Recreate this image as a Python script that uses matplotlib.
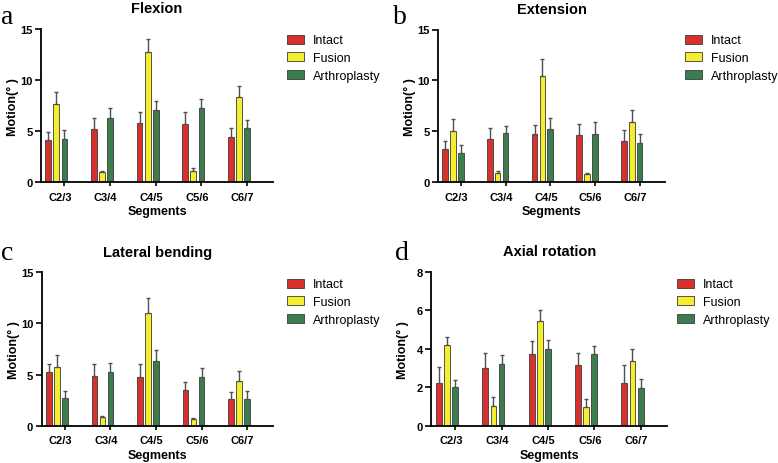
import numpy as np
import matplotlib
matplotlib.use("Agg")
import matplotlib.pyplot as plt

plt.rcParams['font.family'] = ['Liberation Sans', 'DejaVu Sans']

segments = ['C2/3', 'C3/4', 'C4/5', 'C5/6', 'C6/7']
groups = ['Intact', 'Fusion', 'Arthroplasty']
colores = ['#d8302c', '#f4ee2e', '#3b7d4f']

# a - Flexion
flex_intact = [4.14, 5.25, 5.80, 5.74, 4.43]
flex_intact_err = [0.75, 1.08, 1.05, 1.11, 0.92]
flex_fusion = [7.66, 1.01, 12.72, 1.11, 8.31]
flex_fusion_err = [1.21, 0.13, 1.33, 0.29, 1.11]
flex_arth = [4.24, 6.29, 7.04, 7.27, 5.31]
flex_arth_err = [0.88, 0.98, 0.95, 0.85, 0.75]

# b - Extension
ext_intact = [3.27, 4.25, 4.74, 4.67, 4.08]
ext_intact_err = [0.78, 1.04, 0.88, 1.05, 1.05]
ext_fusion = [5.07, 0.88, 10.46, 0.78, 5.92]
ext_fusion_err = [1.11, 0.26, 1.60, 0.17, 1.14]
ext_arth = [2.91, 4.84, 5.23, 4.77, 3.89]
ext_arth_err = [0.78, 0.72, 1.11, 1.11, 0.85]

# c - Lateral bending
lat_intact = [5.22, 4.86, 4.76, 3.46, 2.64]
lat_intact_err = [0.84, 1.17, 1.30, 0.78, 0.62]
lat_fusion = [5.77, 0.88, 11.05, 0.68, 4.37]
lat_fusion_err = [1.14, 0.10, 1.41, 0.07, 0.94]
lat_arth = [2.71, 5.22, 6.36, 4.76, 2.61]
lat_arth_err = [0.71, 0.91, 1.01, 0.91, 0.75]

# d - Axial rotation
axi_intact = [2.22, 2.98, 3.74, 3.15, 2.22]
axi_intact_err = [0.81, 0.78, 0.68, 0.61, 0.93]
axi_fusion = [4.21, 1.04, 5.45, 0.97, 3.34]
axi_fusion_err = [0.38, 0.43, 0.58, 0.40, 0.63]
axi_arth = [2.01, 3.20, 3.98, 3.72, 1.96]
axi_arth_err = [0.38, 0.47, 0.45, 0.44, 0.45]

W, H = 778, 464

def caja(l, t, r, b):
    return [l / W, 1 - b / H, (r - l) / W, (b - t) / H]

paneles = [
    dict(letra='a', titulo='Flexion', box=caja(41, 30, 273, 183.3), ymax=15, yt=[0, 5, 10, 15],
         datos=[(flex_intact, flex_intact_err), (flex_fusion, flex_fusion_err), (flex_arth, flex_arth_err)],
         letra_xy=(1, 24), leg_xy=(287, 35.5)),
    dict(letra='b', titulo='Extension', box=caja(438, 30.5, 665, 183.3), ymax=15, yt=[0, 5, 10, 15],
         datos=[(ext_intact, ext_intact_err), (ext_fusion, ext_fusion_err), (ext_arth, ext_arth_err)],
         letra_xy=(393, 24), leg_xy=(685, 35.5)),
    dict(letra='c', titulo='Lateral bending', box=caja(41.5, 273.3, 273, 426.7), ymax=15, yt=[0, 5, 10, 15],
         datos=[(lat_intact, lat_intact_err), (lat_fusion, lat_fusion_err), (lat_arth, lat_arth_err)],
         letra_xy=(1, 260), leg_xy=(287, 279.5)),
    dict(letra='d', titulo='Axial rotation', box=caja(431.5, 272.7, 667, 426.7), ymax=8, yt=[0, 2, 4, 6, 8],
         datos=[(axi_intact, axi_intact_err), (axi_fusion, axi_fusion_err), (axi_arth, axi_arth_err)],
         letra_xy=(395, 260), leg_xy=(677, 279.5)),
]

fig = plt.figure(figsize=(W / 100, H / 100), dpi=100)

x = np.arange(len(segments))
ancho = 0.125
paso = 0.176

for p in paneles:
    ax = fig.add_axes(p['box'])
    for k, (vals, errs) in enumerate(p['datos']):
        ax.bar(x + (k - 1) * paso, vals, ancho, color=colores[k], edgecolor='#3a3a3a',
               linewidth=0.6, label=groups[k],
               yerr=[np.zeros(len(errs)), errs], capsize=1.2,
               error_kw=dict(ecolor='#505050', elinewidth=1.0, capthick=1.0))
    ax.set_xlim(-0.336, 4.745)
    ax.set_ylim(0, p['ymax'])
    ax.set_yticks(p['yt'])
    ax.set_xticks(x + paso)
    ax.set_xticklabels([])
    ax.set_xticks(x + 0.08, segments, minor=True)
    ax.tick_params(axis='x', which='minor', length=0, pad=7)
    ax.tick_params(axis='x', which='major', length=3, width=1.2)
    ax.tick_params(axis='y', length=4, width=1.2, pad=2)
    for lab in ax.get_xticklabels(minor=True) + ax.get_yticklabels():
        lab.set_fontweight('bold')
        lab.set_fontsize(8)
    for s in ['top', 'right']:
        ax.spines[s].set_visible(False)
    for s in ['left', 'bottom']:
        ax.spines[s].set_linewidth(1.3)
    ax.set_xlabel('Segments', fontsize=9, fontweight='bold', labelpad=2.5)
    ax.set_ylabel('Motion(° )', fontsize=9, fontweight='bold')
    ax.yaxis.set_label_coords(-0.095, 0.5)
    ax.set_title(p['titulo'], fontsize=10.5, fontweight='bold', pad=12)
    fig.text(p['letra_xy'][0] / W, 1 - p['letra_xy'][1] / H, p['letra'],
             family='Liberation Serif', fontsize=20, ha='left', va='baseline')
    ax.legend(loc='upper left', bbox_to_anchor=(p['leg_xy'][0] / W, 1 - p['leg_xy'][1] / H),
              bbox_transform=fig.transFigure, frameon=False, fontsize=9,
              borderpad=0, borderaxespad=0, handlelength=1.36, handleheight=0.72,
              handletextpad=0.7, labelspacing=0.45)

fig.savefig('out.png', dpi=100)
